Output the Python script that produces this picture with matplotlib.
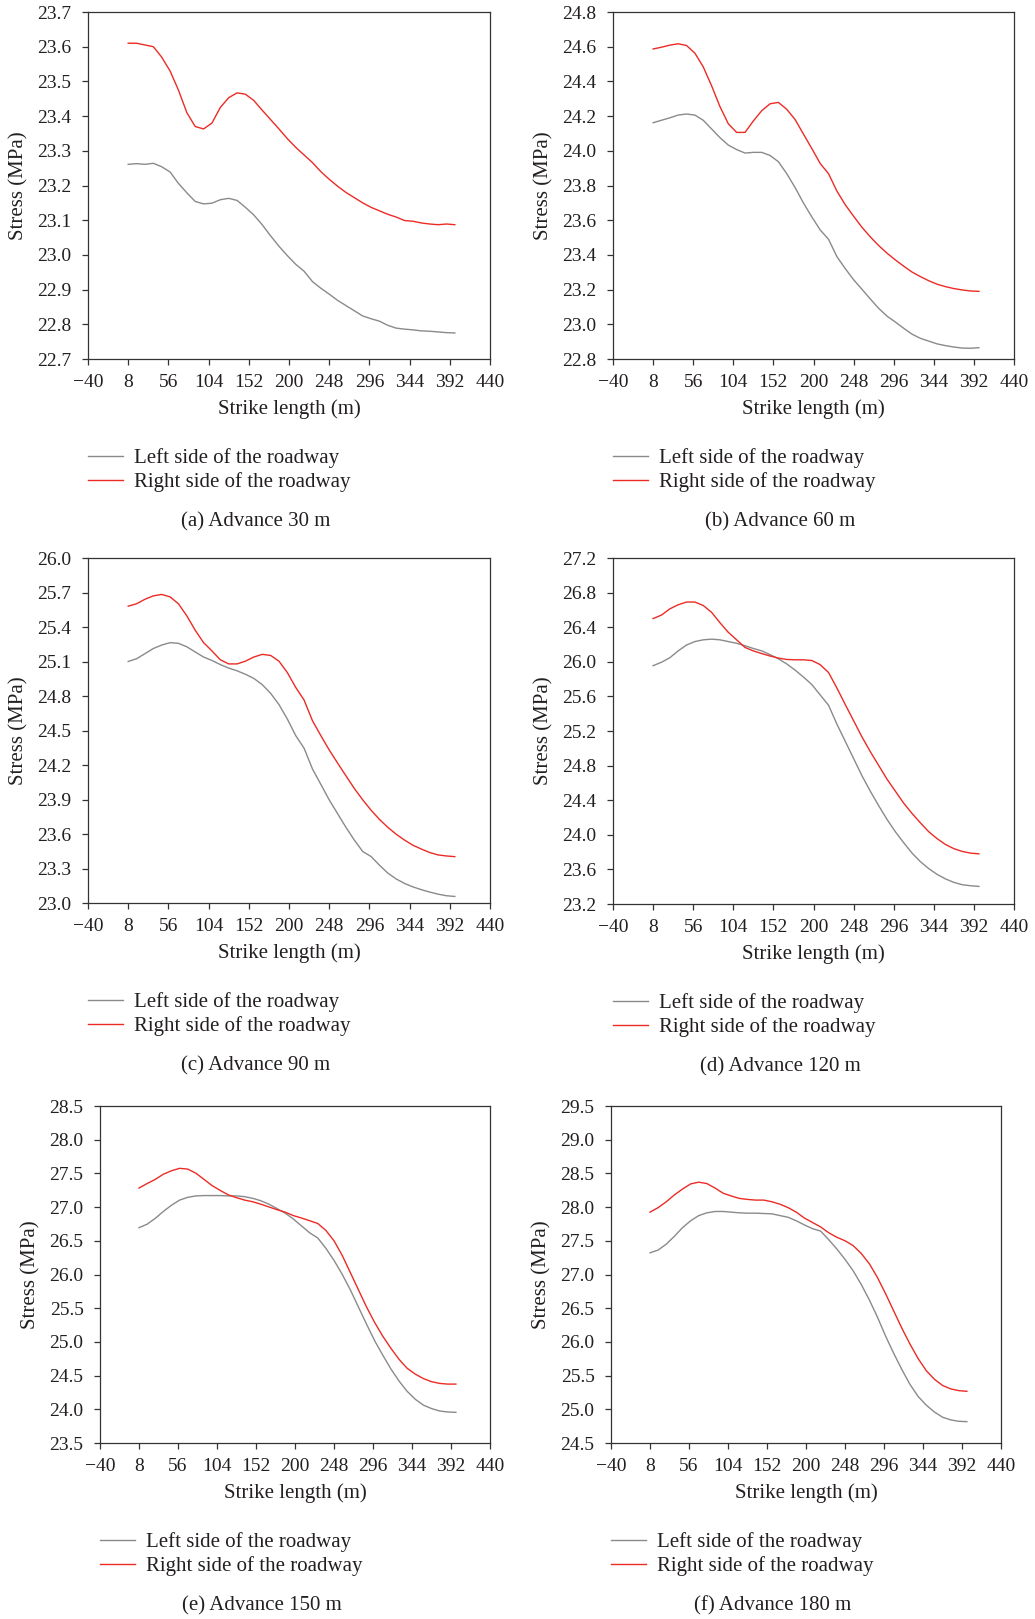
import numpy as np
import matplotlib
matplotlib.use("Agg")
import matplotlib.pyplot as plt

plt.rcParams['font.family'] = ['Liberation Serif', 'DejaVu Serif']

# strike length positions (m)
x = list(range(8, 399, 10))

left_a = [23.261, 23.263, 23.261, 23.264, 23.254, 23.239, 23.206, 23.179, 23.154, 23.147,
          23.149, 23.159, 23.163, 23.157, 23.137, 23.115, 23.087, 23.055, 23.025, 22.998,
          22.973, 22.953, 22.923, 22.904, 22.887, 22.869, 22.854, 22.839, 22.824, 22.816,
          22.809, 22.797, 22.789, 22.786, 22.784, 22.781, 22.780, 22.778, 22.776, 22.775]
right_a = [23.610, 23.610, 23.605, 23.600, 23.570, 23.530, 23.475, 23.410, 23.370, 23.363,
           23.380, 23.425, 23.453, 23.467, 23.463, 23.445, 23.417, 23.390, 23.363, 23.335,
           23.310, 23.288, 23.266, 23.240, 23.218, 23.198, 23.180, 23.165, 23.150, 23.137,
           23.127, 23.117, 23.109, 23.099, 23.097, 23.092, 23.089, 23.087, 23.089, 23.087]

left_b = [24.162, 24.176, 24.190, 24.206, 24.212, 24.206, 24.176, 24.126, 24.076, 24.033,
          24.007, 23.987, 23.991, 23.991, 23.973, 23.937, 23.868, 23.788, 23.699, 23.619,
          23.544, 23.490, 23.390, 23.321, 23.257, 23.202, 23.146, 23.092, 23.047, 23.013,
          22.977, 22.943, 22.919, 22.903, 22.887, 22.877, 22.869, 22.863, 22.862, 22.865]
right_b = [24.587, 24.597, 24.609, 24.617, 24.607, 24.563, 24.484, 24.375, 24.255, 24.156,
           24.106, 24.106, 24.172, 24.231, 24.271, 24.279, 24.239, 24.180, 24.096, 24.013,
           23.927, 23.868, 23.768, 23.689, 23.623, 23.559, 23.504, 23.454, 23.410, 23.371,
           23.335, 23.301, 23.275, 23.251, 23.231, 23.217, 23.206, 23.198, 23.192, 23.190]

left_c = [25.100, 25.124, 25.168, 25.213, 25.243, 25.264, 25.258, 25.228, 25.183, 25.139,
          25.109, 25.073, 25.043, 25.019, 24.989, 24.953, 24.899, 24.824, 24.726, 24.600,
          24.456, 24.346, 24.166, 24.032, 23.897, 23.777, 23.658, 23.547, 23.448, 23.404,
          23.329, 23.260, 23.209, 23.170, 23.140, 23.116, 23.095, 23.077, 23.063, 23.057]
right_c = [25.581, 25.602, 25.641, 25.671, 25.683, 25.662, 25.602, 25.497, 25.372, 25.264,
           25.192, 25.115, 25.079, 25.079, 25.103, 25.139, 25.162, 25.153, 25.103, 25.004,
           24.875, 24.765, 24.585, 24.456, 24.331, 24.217, 24.106, 23.996, 23.897, 23.807,
           23.727, 23.658, 23.598, 23.547, 23.502, 23.469, 23.439, 23.418, 23.409, 23.403]

left_d = [25.955, 25.995, 26.047, 26.126, 26.194, 26.234, 26.254, 26.262, 26.254, 26.234,
          26.214, 26.186, 26.154, 26.126, 26.083, 26.035, 25.975, 25.904, 25.824, 25.737,
          25.617, 25.498, 25.280, 25.081, 24.882, 24.683, 24.504, 24.337, 24.178, 24.035,
          23.908, 23.788, 23.689, 23.609, 23.542, 23.490, 23.450, 23.423, 23.411, 23.403]
right_d = [26.500, 26.540, 26.612, 26.659, 26.691, 26.691, 26.651, 26.572, 26.452, 26.341,
           26.254, 26.166, 26.126, 26.095, 26.067, 26.043, 26.027, 26.023, 26.023, 26.015,
           25.967, 25.876, 25.697, 25.506, 25.319, 25.132, 24.961, 24.802, 24.643, 24.504,
           24.365, 24.246, 24.138, 24.035, 23.955, 23.888, 23.840, 23.808, 23.788, 23.780]

left_e = [26.695, 26.746, 26.833, 26.936, 27.028, 27.104, 27.145, 27.166, 27.171, 27.171,
          27.171, 27.166, 27.166, 27.155, 27.130, 27.094, 27.043, 26.977, 26.910, 26.823,
          26.721, 26.619, 26.542, 26.389, 26.210, 26.005, 25.775, 25.519, 25.264, 25.018,
          24.804, 24.599, 24.420, 24.267, 24.149, 24.062, 24.011, 23.975, 23.960, 23.955]
right_e = [27.283, 27.350, 27.411, 27.488, 27.539, 27.575, 27.564, 27.503, 27.411, 27.319,
           27.247, 27.181, 27.140, 27.104, 27.079, 27.043, 27.002, 26.961, 26.925, 26.874,
           26.838, 26.798, 26.757, 26.654, 26.501, 26.286, 26.031, 25.775, 25.519, 25.289,
           25.085, 24.906, 24.742, 24.609, 24.522, 24.456, 24.410, 24.384, 24.374, 24.374]

left_f = [27.322, 27.363, 27.450, 27.567, 27.695, 27.797, 27.874, 27.915, 27.935, 27.935,
          27.925, 27.915, 27.910, 27.910, 27.905, 27.900, 27.874, 27.849, 27.797, 27.736,
          27.680, 27.644, 27.516, 27.378, 27.225, 27.056, 26.852, 26.622, 26.366, 26.085,
          25.829, 25.589, 25.369, 25.190, 25.062, 24.960, 24.883, 24.843, 24.822, 24.817]
right_f = [27.925, 27.992, 28.079, 28.181, 28.268, 28.344, 28.370, 28.349, 28.283, 28.206,
           28.165, 28.129, 28.114, 28.104, 28.104, 28.079, 28.043, 27.992, 27.925, 27.838,
           27.772, 27.706, 27.619, 27.552, 27.501, 27.429, 27.312, 27.159, 26.954, 26.714,
           26.458, 26.203, 25.967, 25.753, 25.574, 25.446, 25.354, 25.303, 25.277, 25.267]

captions = ["(a) Advance 30 m", "(b) Advance 60 m", "(c) Advance 90 m",
            "(d) Advance 120 m", "(e) Advance 150 m", "(f) Advance 180 m"]
ylims = [(22.7, 23.7, 0.1), (22.8, 24.8, 0.2), (23.0, 26.0, 0.3),
         (23.2, 27.2, 0.4), (23.5, 28.5, 0.5), (24.5, 29.5, 0.5)]
xticks = list(range(-40, 441, 48))

lefts = [left_a, left_b, left_c, left_d, left_e, left_f]
rights = [right_a, right_b, right_c, right_d, right_e, right_f]

# axes boxes in pixels: left, right, top, bottom
boxes = [(88, 490, 12, 359), (613, 1014, 12, 359),
         (88, 490, 558, 903), (613, 1014, 558, 904),
         (100, 490, 1106, 1443), (611, 1001, 1106, 1443)]

W, H = 1035, 1619
fig = plt.figure(figsize=(W / 100, H / 100), dpi=100)

gray = '#8a8a8a'
red = '#ec2b25'
txt = '#231f20'
fs = 15
tfs = 14

for i in range(6):
    l, r, t, b = boxes[i]
    w, h = r - l, b - t
    ax = fig.add_axes([l / W, 1 - b / H, w / W, h / H])
    ax.plot(x, lefts[i], color=gray, lw=1.0, label="Left side of the roadway")
    ax.plot(x, rights[i], color=red, lw=1.0, label="Right side of the roadway")
    y0, y1, st = ylims[i]
    ax.set_xlim(-40, 440)
    ax.set_ylim(y0, y1)
    ax.set_xticks(xticks)
    ax.set_yticks(np.round(np.arange(y0, y1 + st / 2, st), 2))
    ax.yaxis.set_major_formatter(matplotlib.ticker.FormatStrFormatter('%.1f'))
    ax.tick_params(direction='out', length=4.3, width=0.9, labelsize=tfs,
                   color='#333333', labelcolor=txt)
    ax.tick_params(axis='x', pad=6.5)
    ax.tick_params(axis='y', pad=7.5)
    for s in ax.spines.values():
        s.set_linewidth(0.9)
        s.set_color('#333333')
    ax.set_xlabel("Strike length (m)", fontsize=fs, color=txt)
    ax.xaxis.set_label_coords(0.5, -40 / h)
    ax.set_ylabel("Stress (MPa)", fontsize=fs, color=txt)
    ax.yaxis.set_label_coords(-60 / w, 0.5)
    ax.legend(loc='center left', bbox_to_anchor=(l / W, 1 - (b + 111) / H),
              bbox_transform=fig.transFigure, frameon=False,
              fontsize=fs, handlelength=1.7, handletextpad=0.5, labelspacing=0.2,
              borderaxespad=0, borderpad=0, labelcolor=txt)
    cx = (l + r) / 2 - 33
    fig.text(cx / W, 1 - (b + 163) / H, captions[i], ha='center', va='center',
             fontsize=fs, color=txt)

fig.savefig("out.png", dpi=100)
